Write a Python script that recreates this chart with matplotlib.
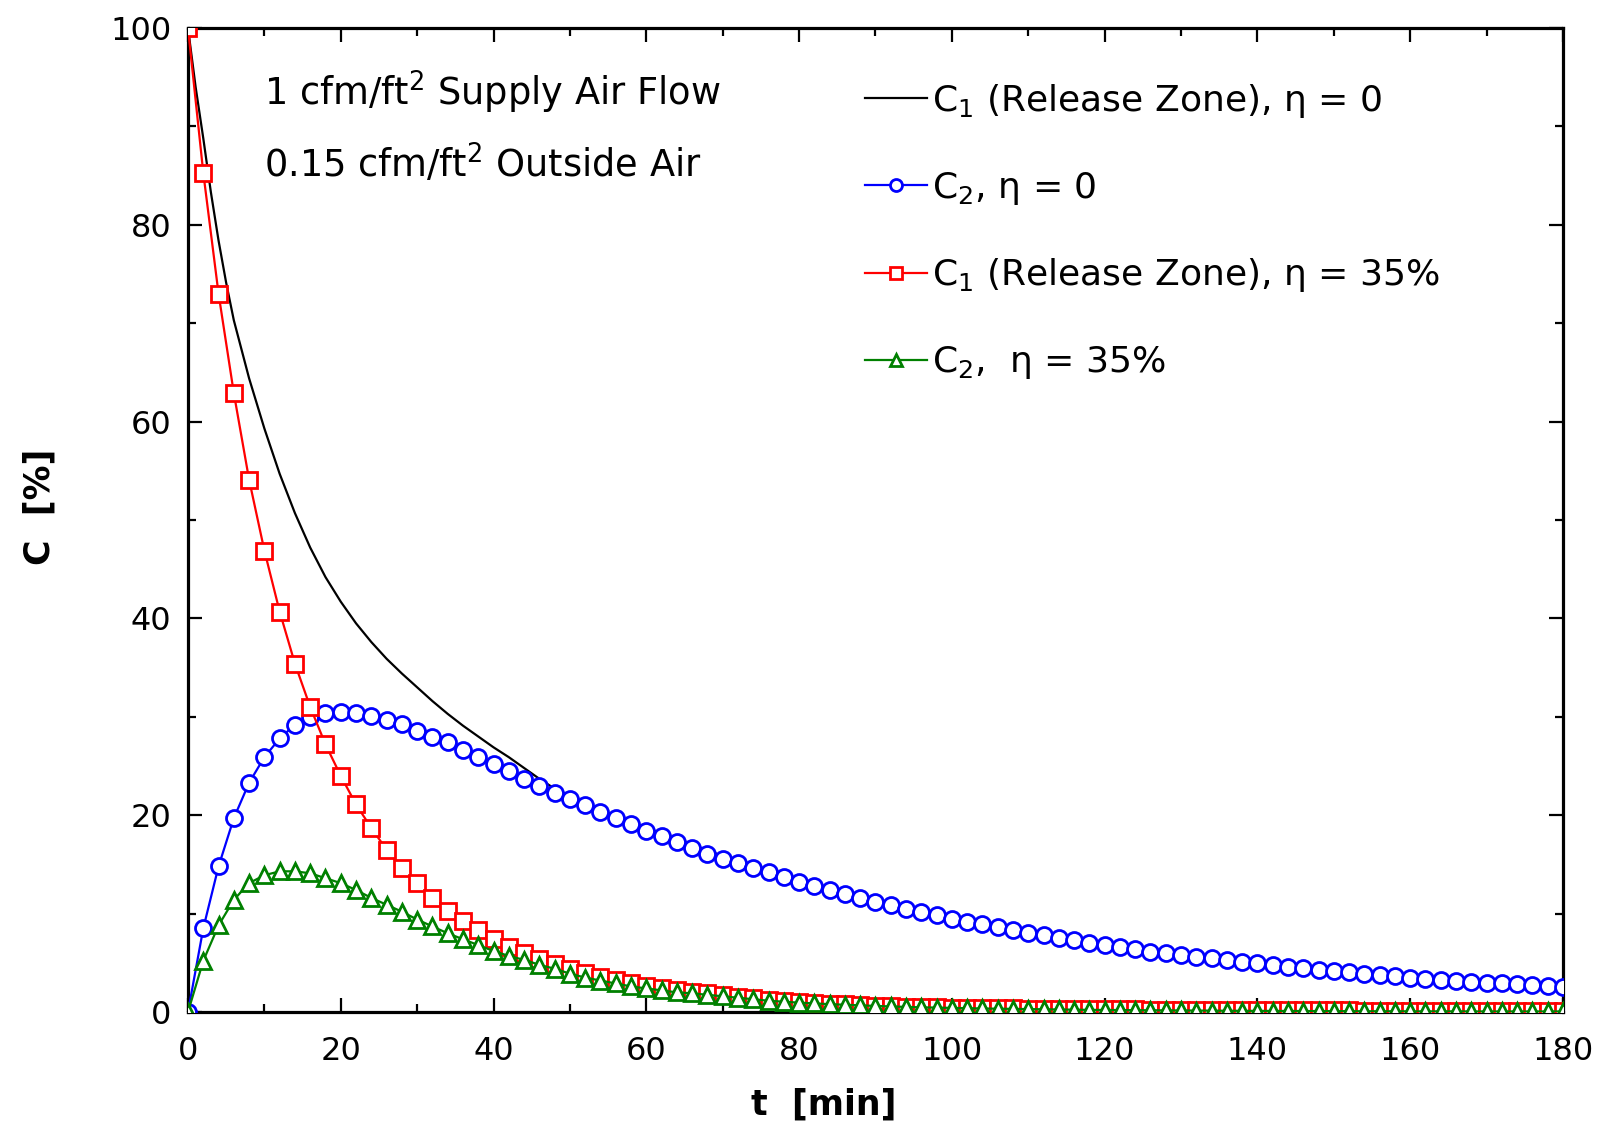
import numpy as np
import matplotlib
matplotlib.use('Agg')
import matplotlib.pyplot as plt
from matplotlib.ticker import MultipleLocator

plt.rcParams['font.family'] = ['DejaVu Sans']
plt.rcParams['mathtext.fontset'] = 'dejavusans'

# time axis for the marker series, every 2 min
t = list(range(0, 182, 2))

# C1 release zone, eta = 0 (smooth curve, denser at the start)
t_c1 = [0, 1, 2, 3, 4, 5, 6, 8, 10, 12, 14, 16, 18, 20, 22, 24, 26, 28, 30,
        32, 34, 36, 38, 40, 42, 44, 46, 48, 50, 52, 56, 60, 70, 80, 90, 100,
        110, 120, 130, 140, 150, 160, 170, 180]
c1_eta0 = [100, 94.0, 88.8, 83.3, 78.4, 74.1, 70.3, 64.4, 59.3, 54.7, 50.7,
           47.2, 44.2, 41.7, 39.5, 37.6, 35.9, 34.4, 33.0, 31.6, 30.3, 29.1,
           28.0, 26.9, 25.9, 24.8, 23.7, 22.7, 21.9, 21.2, 19.9, 18.7, 15.85,
           13.45, 11.4, 9.7, 8.25, 7.0, 5.95, 5.1, 4.35, 3.65, 3.1, 2.65]

# C2, eta = 0
c2_eta0 = [0, 8.5, 14.8, 19.7, 23.3, 25.9, 27.8, 29.2, 30.0, 30.4,
           30.5, 30.4, 30.1, 29.7, 29.3, 28.6, 28.0, 27.4, 26.6, 25.9,
           25.2, 24.5, 23.7, 23.0, 22.3, 21.6, 21.0, 20.3, 19.7, 19.1,
           18.4, 17.9, 17.3, 16.7, 16.1, 15.6, 15.1, 14.6, 14.2, 13.7,
           13.2, 12.8, 12.4, 12.0, 11.6, 11.2, 10.9, 10.5, 10.2, 9.9,
           9.5, 9.2, 8.9, 8.6, 8.35, 8.05, 7.8, 7.55, 7.3, 7.05,
           6.8, 6.6, 6.4, 6.15, 5.95, 5.8, 5.6, 5.45, 5.25, 5.05,
           4.95, 4.8, 4.6, 4.45, 4.3, 4.2, 4.05, 3.9, 3.8, 3.65,
           3.5, 3.4, 3.3, 3.2, 3.1, 3.0, 2.9, 2.85, 2.75, 2.65, 2.55]

# C1 release zone, eta = 35%
c1_eta35 = [100, 85.3, 73.0, 62.9, 54.1, 46.9, 40.7, 35.4, 31.0, 27.2,
            24.0, 21.1, 18.7, 16.5, 14.6, 13.1, 11.6, 10.3, 9.3, 8.3,
            7.4, 6.6, 6.0, 5.4, 4.9, 4.4, 4.0, 3.6, 3.25, 2.9,
            2.6, 2.4, 2.2, 2.05, 1.9, 1.7, 1.55, 1.4, 1.25, 1.1,
            1.0, 0.92, 0.85, 0.78, 0.72, 0.65, 0.6, 0.55, 0.5, 0.47,
            0.44, 0.42, 0.4, 0.38, 0.36, 0.34, 0.33, 0.31, 0.3, 0.29,
            0.28, 0.27, 0.26, 0.25, 0.24, 0.23, 0.22, 0.21, 0.2, 0.2,
            0.19, 0.18, 0.18, 0.17, 0.17, 0.16, 0.16, 0.15, 0.15, 0.15,
            0.14, 0.14, 0.14, 0.13, 0.13, 0.13, 0.13, 0.12, 0.12, 0.12, 0.12]

# C2, eta = 35%
c2_eta35 = [0, 5.2, 8.8, 11.4, 13.1, 13.9, 14.3, 14.3, 14.1, 13.6,
            13.1, 12.4, 11.6, 10.9, 10.2, 9.4, 8.7, 8.0, 7.4, 6.8,
            6.2, 5.7, 5.3, 4.8, 4.4, 3.9, 3.5, 3.2, 2.9, 2.6,
            2.4, 2.2, 2.0, 1.9, 1.75, 1.6, 1.45, 1.3, 1.15, 1.05,
            0.95, 0.88, 0.8, 0.74, 0.68, 0.62, 0.57, 0.52, 0.48, 0.45,
            0.42, 0.39, 0.36, 0.34, 0.32, 0.3, 0.28, 0.26, 0.24, 0.22,
            0.21, 0.2, 0.19, 0.18, 0.17, 0.16, 0.15, 0.14, 0.13, 0.12,
            0.12, 0.11, 0.11, 0.1, 0.1, 0.09, 0.09, 0.08, 0.08, 0.08,
            0.07, 0.07, 0.07, 0.07, 0.06, 0.06, 0.06, 0.06, 0.06, 0.06, 0.06]

labels = [r'C$_1$ (Release Zone), η = 0',
          r'C$_2$, η = 0',
          r'C$_1$ (Release Zone), η = 35%',
          r'C$_2$,  η = 35%']

fig = plt.figure(figsize=(16.04, 11.29), dpi=100)
ax = fig.add_axes([0.1172, 0.1036, 0.8572, 0.8716])

ax.plot(t_c1, c1_eta0, '-', color='black', lw=1.6, label=labels[0], zorder=2)
ax.plot(t, c2_eta0, 'o-', color='blue', lw=1.6, ms=11.5, mew=2.0,
        mfc='white', label=labels[1], zorder=3)
ax.plot(t, c1_eta35, 's-', color='red', lw=1.6, ms=12, mew=2.0,
        mfc='white', label=labels[2], zorder=4)
ax.plot(t, c2_eta35, '^-', color='green', lw=1.6, ms=12, mew=2.0,
        mfc='white', label=labels[3], zorder=5)

ax.set_xlim(0, 180)
ax.set_ylim(0, 100)
ax.xaxis.set_major_locator(MultipleLocator(20))
ax.xaxis.set_minor_locator(MultipleLocator(10))
ax.yaxis.set_major_locator(MultipleLocator(20))
ax.yaxis.set_minor_locator(MultipleLocator(10))
ax.tick_params(which='both', direction='in', top=True, right=True, width=1.6)
ax.tick_params(which='major', length=10)
ax.tick_params(which='minor', length=5.5)
ax.tick_params(axis='x', which='major', labelsize=23, pad=17)
ax.tick_params(axis='y', which='major', labelsize=23, pad=12)
for sp in ax.spines.values():
    sp.set_linewidth(2.3)

ax.set_xlabel('t  [min]', fontsize=25, fontweight='bold', va='center')
ax.set_ylabel('C  [%]', fontsize=25, fontweight='bold', va='center')
ax.xaxis.set_label_coords(0.4625, -0.0945)
ax.yaxis.set_label_coords(-0.108, 0.513)

ax.text(0.0555, 0.935, r'1 cfm/ft$^2$ Supply Air Flow', transform=ax.transAxes,
        fontsize=26.5, va='center', ha='left')
ax.text(0.0555, 0.862, r'0.15 cfm/ft$^2$ Outside Air', transform=ax.transAxes,
        fontsize=26.5, va='center', ha='left')

leg = ax.legend(loc='upper left', bbox_to_anchor=(0.482, 0.96), frameon=False,
                fontsize=26, handlelength=1.7, handletextpad=0.15,
                labelspacing=1.38, markerscale=0.75, borderaxespad=0)

fig.savefig('out.png', dpi=100)
